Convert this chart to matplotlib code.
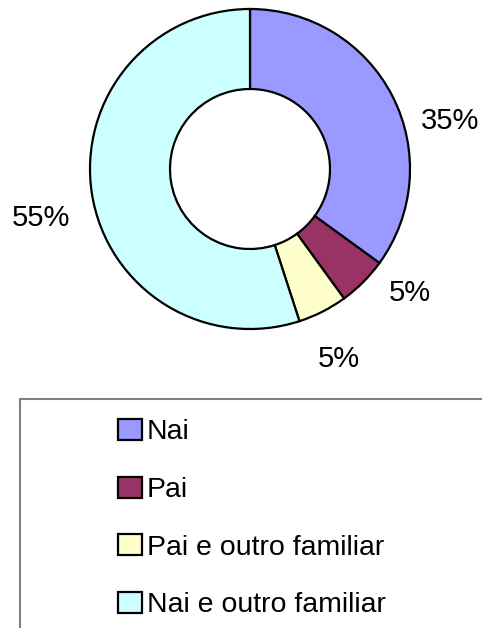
import matplotlib
matplotlib.use("Agg")
import matplotlib.pyplot as plt
from matplotlib.patches import Rectangle

plt.rcParams['font.family'] = ['Liberation Sans', 'DejaVu Sans']

# datos
categorias = ["Nai", "Pai", "Pai e outro familiar", "Nai e outro familiar"]
valores = [35, 5, 5, 55]
colores = ["#9999FF", "#993366", "#FFFFCC", "#CCFFFF"]

W, H = 482, 628
fig = plt.figure(figsize=(W / 100, H / 100), dpi=100)

# ejes del anillo: centro (250, 169) px, radio 160 px
cx, cy, r = 250, 169, 160
ax = fig.add_axes([(cx - r) / W, (H - cy - r) / H, 2 * r / W, 2 * r / H])

cunas, _ = ax.pie(valores, colors=colores, startangle=90, counterclock=False,
                  radius=1, wedgeprops=dict(width=0.5, edgecolor="black", linewidth=1.6))
ax.set_xlim(-1, 1)
ax.set_ylim(-1, 1)
ax.set_aspect("equal")
ax.axis("off")

# etiquetas de porcentaje
pos_etiquetas = [(1.25, 0.30), (1.0, -0.775), (0.556, -1.19), (-1.306, -0.306)]
for v, (x, y) in zip(valores, pos_etiquetas):
    ax.text(x, y, f"{v}%", ha="center", va="center", fontsize=21, color="black")

# marco de la leyenda (se sale de la imagen por abajo y a la derecha)
marco = Rectangle((20 / W, -0.1), 1.2, (H - 399) / H + 0.1, transform=fig.transFigure,
                  facecolor="none", edgecolor="#808080", linewidth=1.5)
fig.patches.append(marco)

fig.legend(handles=cunas, labels=categorias, loc="upper left",
           bbox_to_anchor=(118 / W, (H - 419) / H), frameon=False,
           borderpad=0, borderaxespad=0, handlelength=0.86, handleheight=0.75,
           handletextpad=0.16, labelspacing=1.1, fontsize=20.5)

fig.savefig("out.png", dpi=100, facecolor="white")
